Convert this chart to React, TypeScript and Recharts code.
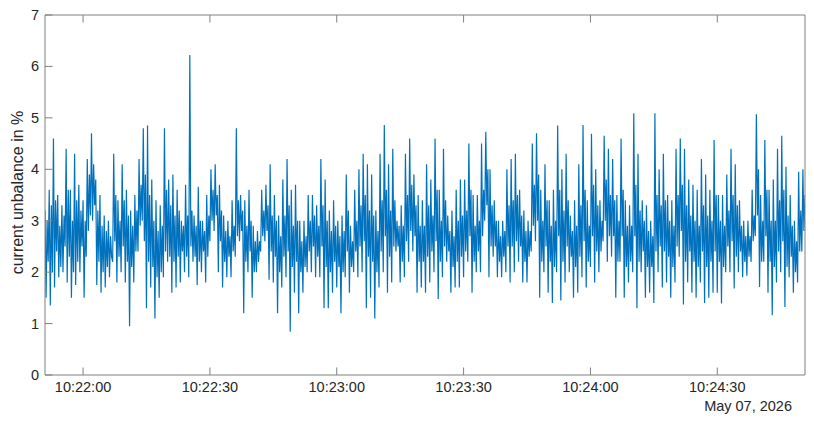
import React from "react";
import { LineChart, Line, XAxis, YAxis } from "recharts";

// sampling of the recorded signal
const START_TIME = "10:21:51";
const STEP_S = 0.25;

// current unbalance in %, one value every 0.25 s, split by 30 s blocks
const seg0 = [
  3.2, 1.5, 3.0, 2.2, 3.6, 1.35, 3.3, 2.0, 4.6, 1.7, 3.4, 2.4, 3.5, 1.9, 2.9, 2.1,
  3.3, 2.0, 3.1, 2.5, 4.4, 1.8, 3.6, 2.3, 3.6, 1.5, 3.0, 2.0, 4.3, 1.75, 3.4, 2.2,
  3.7, 2.0, 3.2, 2.5,
];
const seg1 = [
  3.4, 1.5, 3.0, 2.3, 4.2, 2.8, 3.9, 3.1, 4.7, 3.0, 4.1, 3.3, 3.8, 1.75, 3.2, 2.2,
  3.5, 1.6, 2.9, 2.0, 3.1, 1.7, 2.8, 2.1, 3.0, 1.9, 2.7, 2.3, 2.2, 4.3, 2.6, 3.5,
  1.8, 3.4, 2.3, 3.0, 2.0, 4.1, 2.5, 3.4, 1.8, 3.6, 2.2, 3.1, 0.95, 3.2, 2.1, 2.9,
  1.8, 3.5, 2.4, 3.2, 2.4, 4.2, 2.9, 3.7, 3.0, 4.8, 2.6, 3.9, 1.3, 4.85, 2.2, 3.5,
  1.7, 3.8, 2.1, 3.0, 1.1, 3.4, 1.9, 2.8, 1.5, 3.3, 2.0, 2.9, 1.9, 4.8, 2.4, 3.6,
  2.2, 3.8, 2.3, 3.3, 1.6, 3.9, 2.2, 3.1, 1.7, 3.6, 2.3, 3.2, 1.8, 3.0, 2.4, 2.9,
  2.0, 3.7, 2.3, 3.1, 1.9, 6.22, 2.5, 3.2, 2.2, 3.1, 2.3, 2.9, 1.75, 3.66, 2.2, 3.0,
  2.0, 3.0, 2.4, 2.8, 1.8, 3.5, 2.3, 3.1,
];
const seg2 = [
  2.6, 4.0, 3.0, 3.6, 2.8, 4.1, 3.1, 3.5, 2.0, 3.7, 2.6, 3.2, 1.7, 3.1, 2.2, 2.8,
  1.9, 3.0, 2.3, 2.7, 1.9, 3.4, 2.4, 2.9, 2.3, 4.8, 2.7, 3.4, 2.6, 3.5, 2.8, 3.2,
  1.2, 3.4, 2.2, 2.9, 2.0, 3.6, 2.4, 3.0, 1.5, 2.9, 2.0, 2.6, 2.0, 2.8, 2.2, 2.6,
  2.4, 3.6, 2.7, 3.2, 2.6, 3.7, 2.8, 3.3, 1.85, 4.1, 2.4, 3.1, 1.8, 3.5, 2.3, 3.0,
  1.2, 3.1, 2.0, 2.7, 1.7, 3.8, 2.3, 3.1, 1.9, 4.2, 2.4, 3.3, 0.84, 3.6, 2.1, 2.9,
  1.6, 3.7, 2.2, 3.0, 1.2, 3.0, 2.0, 2.6, 1.6, 3.0, 2.1, 2.7, 2.0, 3.5, 2.4, 3.0,
  2.0, 3.5, 2.5, 3.1, 1.9, 3.3, 2.3, 2.9, 1.9, 4.2, 2.5, 3.3, 1.3, 3.8, 2.1, 3.0,
  1.3, 3.2, 2.0, 2.8, 1.6, 3.4, 2.2, 2.9,
];
const seg3 = [
  1.7, 3.0, 2.1, 2.7, 1.2, 3.1, 2.0, 2.8, 1.9, 3.9, 2.4, 3.2, 1.6, 2.9, 2.1, 2.6,
  2.0, 3.6, 2.4, 3.0, 1.9, 4.0, 2.5, 3.3, 2.0, 4.3, 2.6, 3.5, 1.3, 4.1, 2.3, 3.2,
  1.5, 3.9, 2.2, 3.1, 1.1, 3.2, 2.0, 2.8, 1.7, 4.3, 2.4, 3.4, 2.0, 4.86, 2.7, 3.6,
  1.6, 4.1, 2.3, 3.2, 1.8, 4.4, 2.5, 3.4, 2.4, 3.0, 2.5, 2.9, 1.8, 3.3, 2.2, 2.9,
  1.9, 4.3, 2.6, 3.5, 2.2, 4.6, 2.8, 3.7, 2.4, 3.9, 2.7, 3.3, 1.6, 3.5, 2.2, 2.9,
  1.7, 3.4, 2.2, 2.9, 1.6, 4.1, 2.3, 3.3, 1.8, 3.8, 2.4, 3.1, 2.0, 4.6, 2.6, 3.6,
  1.48, 3.6, 2.2, 3.0, 1.9, 4.4, 2.5, 3.4, 2.2, 3.1, 2.4, 2.8, 1.6, 3.2, 2.1, 2.7,
  1.7, 3.6, 2.2, 3.0, 1.7, 3.8, 2.3, 3.1,
];
const seg4 = [
  1.9, 3.8, 2.4, 3.2, 2.2, 4.5, 2.7, 3.6, 1.6, 3.5, 2.2, 2.9, 2.0, 3.5, 2.4, 3.0,
  2.0, 4.5, 2.7, 3.6, 3.0, 4.73, 3.3, 4.0, 1.9, 4.0, 2.5, 3.3, 2.3, 3.4, 2.5, 3.0,
  1.9, 3.0, 2.2, 2.7, 1.9, 3.0, 2.3, 2.8, 2.0, 4.0, 2.5, 3.3, 1.8, 4.2, 2.5, 3.4,
  2.0, 4.3, 2.6, 3.5, 2.2, 3.6, 2.5, 3.1, 1.8, 3.2, 2.2, 2.8, 1.8, 3.0, 2.3, 2.8,
  2.4, 4.5, 2.9, 3.7, 2.6, 4.7, 3.0, 3.9, 1.5, 3.6, 2.2, 3.0, 2.0, 4.1, 2.5, 3.4,
  1.6, 3.4, 2.2, 2.9, 1.4, 3.6, 2.1, 3.0, 2.0, 4.85, 2.7, 3.6, 1.45, 4.0, 2.2, 3.2,
  1.8, 4.3, 2.5, 3.4, 2.0, 3.1, 2.3, 2.8, 1.5, 3.4, 2.1, 2.9, 1.6, 4.1, 2.3, 3.3,
  1.9, 4.86, 2.6, 3.6, 1.7, 3.4, 2.2, 2.9,
];
const seg5 = [
  2.1, 4.69, 2.7, 3.7, 1.8, 4.0, 2.4, 3.3, 2.0, 3.4, 2.4, 3.0, 2.6, 4.65, 3.0, 3.8,
  2.2, 4.4, 2.7, 3.5, 2.3, 4.2, 2.7, 3.4, 1.5, 3.5, 2.2, 3.0, 2.2, 4.6, 2.7, 3.6,
  1.5, 3.4, 2.1, 2.9, 1.8, 3.3, 2.2, 2.9, 2.0, 5.09, 2.7, 3.7, 1.3, 4.3, 2.2, 3.2,
  2.0, 3.4, 2.4, 3.0, 1.5, 3.3, 2.1, 2.8, 1.6, 3.0, 2.1, 2.7, 1.4, 5.09, 2.4, 3.5,
  2.0, 4.0, 2.5, 3.3, 1.7, 4.3, 2.4, 3.4, 1.8, 3.5, 2.3, 3.0, 1.5, 3.4, 2.1, 2.9,
  1.8, 4.4, 2.5, 3.5, 2.3, 4.6, 2.8, 3.7, 1.37, 4.4, 2.2, 3.3, 1.8, 3.8, 2.4, 3.1,
  1.6, 3.7, 2.2, 3.0, 1.5, 3.6, 2.1, 2.9, 1.8, 4.2, 2.4, 3.3, 1.4, 3.9, 2.1, 3.1,
  1.5, 3.6, 2.2, 3.0, 1.6, 4.57, 2.4, 3.5,
];
const seg6 = [
  1.6, 3.5, 2.2, 3.0, 1.39, 3.5, 2.1, 2.9, 2.0, 3.9, 2.5, 3.2, 2.0, 4.4, 2.6, 3.5,
  1.68, 4.1, 2.3, 3.3, 2.0, 3.4, 2.4, 2.9, 1.9, 3.0, 2.2, 2.7, 1.93, 3.0, 2.3, 2.7,
  2.2, 3.6, 2.6, 3.1, 2.7, 5.07, 3.1, 4.0, 1.71, 3.5, 2.2, 3.0, 2.2, 4.57, 2.7, 3.6,
  1.6, 3.6, 2.2, 3.0, 1.16, 3.8, 2.1, 3.0, 1.8, 4.4, 2.4, 3.4, 2.0, 4.65, 2.6, 3.6,
  1.32, 4.05, 2.1, 3.1, 1.9, 3.5, 2.3, 2.9, 1.6, 3.0, 2.0, 2.6, 1.8, 3.95, 2.4, 3.2,
  2.4, 4.0, 2.8, 3.5,
];

const X_TICKS = ["10:22:00", "10:22:30", "10:23:00", "10:23:30", "10:24:00", "10:24:30"];
const Y_TICKS = [0, 1, 2, 3, 4, 5, 6, 7];
const DATE_LABEL = "May 07, 2026";
const Y_LABEL = "current unbalance in %";

const LINE_COLOR = "#0072BD";
const AXIS_COLOR = "#808080";
const TEXT_COLOR = "#262626";
const FONT = "Arial, 'Liberation Sans', Helvetica, sans-serif";
const TICK_LEN = 7.5;

const toSec = (s: string) => {
  const [h, m, sec] = s.split(":").map(Number);
  return h * 3600 + m * 60 + sec;
};
const pad = (n: number) => String(n).padStart(2, "0");
const fmtTime = (t: number) =>
  `${pad(Math.floor(t / 3600))}:${pad(Math.floor((t % 3600) / 60))}:${pad(Math.round(t % 60))}`;

const values = [...seg0, ...seg1, ...seg2, ...seg3, ...seg4, ...seg5, ...seg6];
const t0 = toSec(START_TIME);
const data = values.map((v, i) => ({ t: t0 + i * STEP_S, v }));
const xDomain = [data[0].t, data[data.length - 1].t];
const xTicks = X_TICKS.map(toSec);

function BottomTick({ x, y, payload }: any) {
  return (
    <g>
      <line x1={x} y1={y} x2={x} y2={y - TICK_LEN} stroke={AXIS_COLOR} />
      <text x={x} y={y + 17} textAnchor="middle" fill={TEXT_COLOR} fontSize={14.5} fontFamily={FONT}>
        {fmtTime(payload.value)}
      </text>
    </g>
  );
}

function TopTick({ x, y }: any) {
  return <line x1={x} y1={y} x2={x} y2={y + TICK_LEN} stroke={AXIS_COLOR} />;
}

function LeftTick({ x, y, payload }: any) {
  return (
    <g>
      <line x1={x} y1={y} x2={x + TICK_LEN} y2={y} stroke={AXIS_COLOR} />
      <text x={x - 6} y={y + 5} textAnchor="end" fill={TEXT_COLOR} fontSize={14.5} fontFamily={FONT}>
        {payload.value}
      </text>
    </g>
  );
}

function RightTick({ x, y }: any) {
  return <line x1={x} y1={y} x2={x - TICK_LEN} y2={y} stroke={AXIS_COLOR} />;
}

export default function App() {
  return (
    <div style={{ position: "absolute", left: 0, top: 0, width: 814, height: 423, background: "#fff" }}>
      <LineChart width={814} height={423} data={data} margin={{ top: 14, right: 8, left: 0, bottom: 18 }}>
        <XAxis
          xAxisId="bottom"
          dataKey="t"
          type="number"
          domain={xDomain}
          allowDataOverflow
          ticks={xTicks}
          interval={0}
          height={30}
          tickSize={0}
          tickMargin={0}
          tickLine={false}
          axisLine={{ stroke: AXIS_COLOR }}
          tick={<BottomTick />}
        />
        <XAxis
          xAxisId="top"
          orientation="top"
          dataKey="t"
          type="number"
          domain={xDomain}
          allowDataOverflow
          ticks={xTicks}
          interval={0}
          height={1}
          tickSize={0}
          tickMargin={0}
          tickLine={false}
          axisLine={{ stroke: AXIS_COLOR }}
          tick={<TopTick />}
        />
        <YAxis
          yAxisId="left"
          type="number"
          domain={[0, 7]}
          ticks={Y_TICKS}
          interval={0}
          width={45}
          tickSize={0}
          tickMargin={0}
          tickLine={false}
          axisLine={{ stroke: AXIS_COLOR }}
          tick={<LeftTick />}
        />
        <YAxis
          yAxisId="right"
          orientation="right"
          type="number"
          domain={[0, 7]}
          ticks={Y_TICKS}
          interval={0}
          width={1}
          tickSize={0}
          tickMargin={0}
          tickLine={false}
          axisLine={{ stroke: AXIS_COLOR }}
          tick={<RightTick />}
        />
        <Line
          xAxisId="bottom"
          yAxisId="left"
          dataKey="v"
          type="linear"
          stroke={LINE_COLOR}
          strokeWidth={1.2}
          dot={false}
          isAnimationActive={false}
        />
      </LineChart>
      <svg width={814} height={423} style={{ position: "absolute", left: 0, top: 0, pointerEvents: "none" }}>
        <text
          x={23}
          y={192.5}
          transform="rotate(-90 23 192.5)"
          textAnchor="middle"
          fill={TEXT_COLOR}
          fontSize={16}
          fontFamily={FONT}
        >
          {Y_LABEL}
        </text>
        <text x={792} y={411} textAnchor="end" fill={TEXT_COLOR} fontSize={14.5} fontFamily={FONT}>
          {DATE_LABEL}
        </text>
      </svg>
    </div>
  );
}
